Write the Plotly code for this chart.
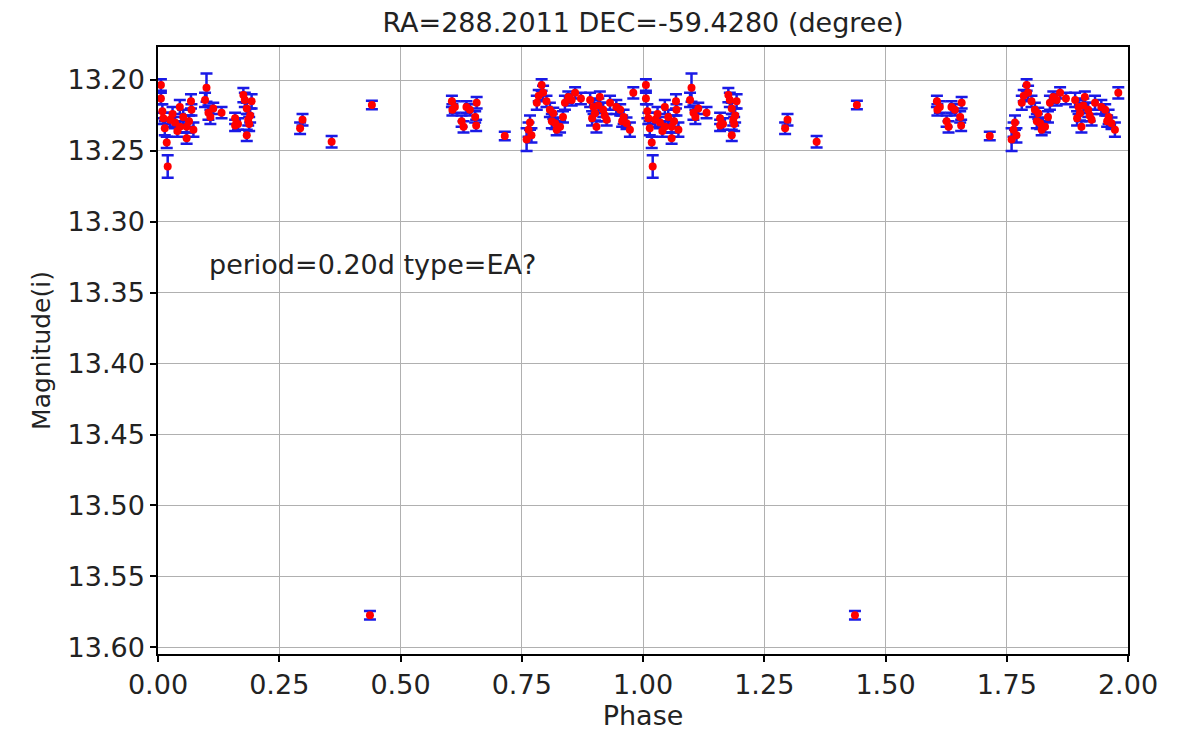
import plotly.graph_objects as go

# Phase-folded data (one cycle); plotted twice (phase and phase+1)
phase = [0.006, 0.006, 0.009, 0.011, 0.014, 0.018, 0.020, 0.025, 0.035, 0.045,
         0.045, 0.059, 0.059, 0.068, 0.069, 0.073, 0.100, 0.097, 0.104, 0.114,
         0.131, 0.159, 0.159, 0.176, 0.179, 0.183, 0.190, 0.186, 0.183, 0.193,
         0.293, 0.298, 0.358, 0.441, 0.437,
         0.606, 0.607, 0.612, 0.626, 0.630, 0.636, 0.643, 0.654, 0.656, 0.657,
         0.715, 0.760, 0.764, 0.767, 0.770, 0.781, 0.791, 0.794, 0.801, 0.808,
         0.815, 0.819, 0.822, 0.829, 0.839, 0.846, 0.853, 0.860, 0.891, 0.898,
         0.901, 0.904, 0.911, 0.918, 0.925, 0.932, 0.953, 0.960, 0.966, 0.973,
         0.980,
         0.030, 0.040, 0.052, 0.064, 0.108, 0.165, 0.188, 0.785, 0.812, 0.835,
         0.872, 0.895, 0.908, 0.921, 0.945, 0.957]
mag = [13.2035, 13.213, 13.222, 13.227, 13.234, 13.244, 13.261, 13.228, 13.230, 13.219,
       13.233, 13.233, 13.241, 13.215, 13.221, 13.235, 13.2054, 13.214, 13.223, 13.220,
       13.223, 13.227, 13.232, 13.2106, 13.214, 13.220, 13.225, 13.228, 13.239, 13.215,
       13.234, 13.228, 13.2435, 13.2176, 13.5775,
       13.215, 13.221, 13.219, 13.229, 13.233, 13.219, 13.221, 13.226, 13.232, 13.216,
       13.2395, 13.242, 13.235, 13.230, 13.239, 13.216, 13.2035, 13.209, 13.215, 13.221,
       13.2235, 13.2305, 13.235, 13.233, 13.216, 13.212, 13.214, 13.209, 13.214, 13.219,
       13.2235, 13.233, 13.212, 13.221, 13.228, 13.216, 13.221, 13.226, 13.2305, 13.235,
       13.209,
       13.224, 13.236, 13.226, 13.229, 13.226, 13.231, 13.231, 13.211, 13.229, 13.226,
       13.213, 13.227, 13.218, 13.225, 13.219, 13.229]
err = [0.004, 0.004, 0.005, 0.004, 0.005, 0.004, 0.008, 0.005, 0.004, 0.005,
       0.004, 0.004, 0.004, 0.005, 0.004, 0.005, 0.010, 0.005, 0.005, 0.004,
       0.004, 0.004, 0.004, 0.005, 0.005, 0.004, 0.005, 0.004, 0.004, 0.005,
       0.004, 0.004, 0.004, 0.003, 0.003,
       0.004, 0.004, 0.004, 0.004, 0.004, 0.004, 0.004, 0.004, 0.004, 0.004,
       0.003, 0.008, 0.005, 0.005, 0.005, 0.005, 0.004, 0.005, 0.004, 0.005,
       0.004, 0.004, 0.004, 0.004, 0.005, 0.004, 0.004, 0.004, 0.005, 0.005,
       0.005, 0.004, 0.004, 0.005, 0.004, 0.005, 0.004, 0.005, 0.004, 0.005,
       0.004,
       0.005, 0.004, 0.005, 0.004, 0.005, 0.004, 0.005, 0.004, 0.005, 0.004,
       0.004, 0.005, 0.005, 0.004, 0.005, 0.004]

x_ticks = [0.0, 0.25, 0.5, 0.75, 1.0, 1.25, 1.5, 1.75, 2.0]
y_ticks = [13.20, 13.25, 13.30, 13.35, 13.40, 13.45, 13.50, 13.55, 13.60]

x_all = phase + [p + 1 for p in phase]
y_all = mag + mag
e_all = err + err

FONT = "DejaVu Sans"
TXT = "#222222"

fig = go.Figure()
fig.add_trace(go.Scatter(
    x=x_all, y=y_all, mode="markers",
    marker=dict(color="red", size=8, line=dict(width=0)),
    error_y=dict(type="data", array=e_all, visible=True, color="#1a1ae6",
                 thickness=2.5, width=6),
    showlegend=False,
))

fig.add_annotation(x=0.1, y=13.330, text="period=0.20d type=EA?", showarrow=False,
                   xanchor="left", yanchor="middle",
                   font=dict(family=FONT, size=27, color=TXT))

axis_common = dict(showline=True, linecolor="black", linewidth=1.5, mirror=True,
                   ticks="outside", ticklen=6, tickwidth=1.5, tickcolor="black",
                   showgrid=True, gridcolor="#b0b0b0", gridwidth=1.2,
                   zeroline=False, tickfont=dict(family=FONT, size=27, color=TXT))

fig.update_layout(
    width=1187, height=735,
    margin=dict(l=158, r=59, t=47, b=81),
    paper_bgcolor="white", plot_bgcolor="white",
    title=dict(text="RA=288.2011 DEC=-59.4280 (degree)", x=(158 + 1128) / 2 / 1187,
               xanchor="center", y=1 - 23 / 735, yanchor="middle",
               font=dict(family=FONT, size=27, color=TXT)),
    xaxis=dict(range=[0, 2], tickvals=x_ticks, tickformat=".2f",
               title=dict(text="Phase", font=dict(family=FONT, size=27, color=TXT),
                          standoff=4),
               **axis_common),
    yaxis=dict(range=[13.6048, 13.1767], tickvals=y_ticks, tickformat=".2f",
               title=dict(text="Magnitude(i)", font=dict(family=FONT, size=25, color=TXT),
                          standoff=10),
               **axis_common),
)

fig.write_html("out.html")
